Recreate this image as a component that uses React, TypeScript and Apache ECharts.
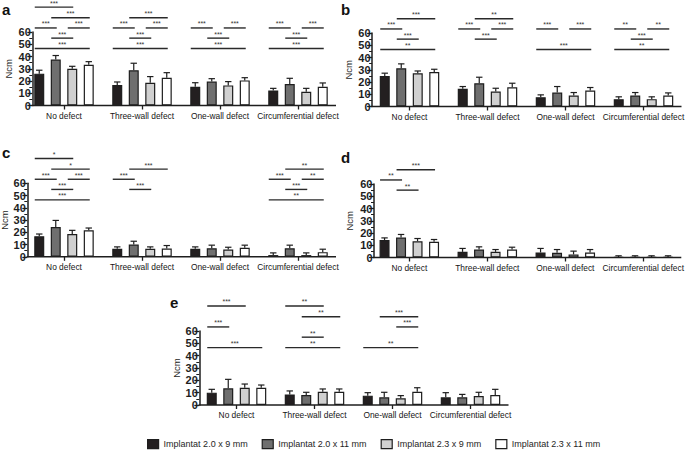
import React, { useEffect, useRef } from "react";
import * as echarts from "echarts";

const CATEGORIES = ["No defect", "Three-wall defect", "One-wall defect", "Circumferential defect"];
const IMPLANTS = ["Implantat 2.0 x 9 mm", "Implantat 2.0 x 11 mm", "Implantat 2.3 x 9 mm", "Implantat 2.3 x 11 mm"];
const COLORS = ["#231f20", "#6f6f6f", "#d0d0d0", "#ffffff"];
const BRACKET_LEVELS = [46.5, 55, 63.3, 71.6, 80.3];

// mean torque [implant][category]
const A_MEAN = [[26, 16.7, 15.3, 12.3], [37.5, 28.8, 19.5, 17.5], [30, 18.6, 16.4, 11.2], [33.2, 22.7, 20.5, 15.3]];
const A_SD = [[2.8, 2.5, 3.3, 1.7], [3.3, 5.7, 2.4, 4.7], [2, 5, 3.1, 2.8], [2.6, 4.1, 2.2, 3.1]];
const A_BRACKETS: [number, number, number, number, string][] = [
  [0, 0, 3, 0, "***"], [0, 1, 2, 1, "***"], [0, 0, 1, 2, "***"], [0, 2, 3, 2, "***"], [0, 1, 3, 3, "***"], [0, 0, 2, 4, "***"],
  [1, 0, 3, 0, "***"], [1, 1, 2, 1, "***"], [1, 0, 1, 2, "***"], [1, 2, 3, 2, "***"], [1, 1, 3, 3, "***"],
  [2, 0, 3, 0, "***"], [2, 1, 2, 1, "***"], [2, 0, 1, 2, "***"], [2, 2, 3, 2, "***"],
  [3, 0, 3, 0, "***"], [3, 1, 2, 1, "***"], [3, 0, 1, 2, "***"], [3, 2, 3, 2, "***"],
];

const B_MEAN = [[25, 14.4, 7.6, 6], [31.2, 19, 11.4, 9], [27.2, 12.2, 9, 6], [28.2, 15.7, 13, 9]];
const B_SD = [[2.2, 1.9, 1.9, 1.9], [3.6, 4.9, 4.9, 2.4], [1.8, 2.7, 2.4, 1.9], [2.2, 3.3, 2.5, 2.1]];
const B_BRACKETS: [number, number, number, number, string][] = [
  [0, 0, 3, 0, "**"], [0, 1, 2, 1, "***"], [0, 0, 1, 2, "***"], [0, 1, 3, 3, "***"],
  [1, 1, 2, 1, "***"], [1, 0, 1, 2, "***"], [1, 2, 3, 2, "***"], [1, 1, 3, 3, "**"],
  [2, 0, 3, 0, "***"], [2, 0, 1, 2, "***"], [2, 2, 3, 2, "***"],
  [3, 0, 3, 0, "**"], [3, 1, 2, 1, "***"], [3, 0, 1, 2, "**"], [3, 2, 3, 2, "**"],
];

const C_MEAN = [[16.8, 6.5, 6.5, 1.4], [24.3, 10, 7, 7], [18.6, 6.5, 5.9, 1.4], [21.6, 6.8, 7.3, 3.8]];
const C_SD = [[1.8, 1.6, 1.6, 1.8], [5.4, 2.7, 2.5, 2.5], [3, 1.6, 1.9, 1.8], [1.9, 2.4, 2.2, 2.4]];
const C_BRACKETS: [number, number, number, number, string][] = [
  [0, 0, 3, 0, "***"], [0, 1, 2, 1, "***"], [0, 0, 1, 2, "***"], [0, 2, 3, 2, "***"], [0, 1, 3, 3, "*"], [0, 0, 2, 4, "*"],
  [1, 1, 2, 1, "***"], [1, 0, 1, 2, "***"], [1, 1, 3, 3, "***"],
  [3, 0, 3, 0, "**"], [3, 1, 2, 1, "***"], [3, 0, 1, 2, "***"], [3, 2, 3, 2, "**"], [3, 1, 3, 3, "**"],
];

const D_MEAN = [[14.2, 4.6, 4.1, 0.4], [16.3, 6.5, 3.8, 0.4], [13.3, 4.6, 2.5, 0.4], [12.8, 6.5, 4.1, 0.4]];
const D_SD = [[1.8, 2.8, 3.3, 1], [2.5, 2.2, 2.7, 1], [2.2, 1.9, 2.7, 1], [1.9, 1.9, 2.4, 1]];
const D_BRACKETS: [number, number, number, number, string][] = [
  [0, 1, 2, 1, "**"], [0, 0, 1, 2, "**"], [0, 1, 3, 3, "***"],
];

const E_MEAN = [[10, 8.6, 7.6, 6.2], [13.5, 8.1, 6.2, 6.2], [14, 10.8, 5.4, 7.3], [14, 10.8, 10.8, 8.1]];
const E_SD = [[2.7, 2.8, 2.4, 3.8], [7.3, 2.2, 4.1, 2.4], [3, 2.2, 2.2, 3], [2.2, 2.2, 3.2, 4.6]];
const E_BRACKETS: [number, number, number, number, string][] = [
  [0, 0, 3, 0, "***"], [0, 0, 1, 2, "***"], [0, 0, 2, 4, "***"],
  [1, 0, 3, 0, "**"], [1, 1, 2, 1, "**"], [1, 1, 3, 3, "**"], [1, 0, 2, 4, "**"],
  [2, 0, 3, 0, "**"], [2, 2, 3, 2, "***"], [2, 1, 3, 3, "***"],
];

const PANELS = [
  { label: "a", mean: A_MEAN, sd: A_SD, brackets: A_BRACKETS, left: 25, top: 32, height: 73.5, shift: 7.3, gap: 19, lx: 2, ly: 2 },
  { label: "b", mean: B_MEAN, sd: B_SD, brackets: B_BRACKETS, left: 370.5, top: 33, height: 73.5, shift: 1.6, gap: 19, lx: 341, ly: 2 },
  { label: "c", mean: C_MEAN, sd: C_SD, brackets: C_BRACKETS, left: 25, top: 183.3, height: 73.5, shift: 2.3, gap: 15, lx: 2, ly: 145 },
  { label: "d", mean: D_MEAN, sd: D_SD, brackets: D_BRACKETS, left: 370.3, top: 184, height: 73.5, shift: 3.7, gap: 20, lx: 341, ly: 150 },
  { label: "e", mean: E_MEAN, sd: E_SD, brackets: E_BRACKETS, left: 197.5, top: 331, height: 74, shift: 1.8, gap: 15, lx: 170, ly: 295 },
];

const FONT = "'Liberation Sans', Arial, Helvetica, sans-serif";
const INK = "#1e1e1e";
const BAR_W = 10;
const BAR_STEP = 16.5;
const CAP = 3.2;
const BAND = 78;

export default function App() {
  const ref = useRef<HTMLDivElement>(null);
  useEffect(() => {
    if (!ref.current) return;
    const chart = echarts.init(ref.current, null, { renderer: "svg" });
    const grid: any[] = [];
    const xAxis: any[] = [];
    const yAxis: any[] = [];
    const series: any[] = [];
    const graphic: any[] = [];

    PANELS.forEach((p, gi) => {
      grid.push({ left: p.left, top: p.top, width: BAND * 4, height: p.height, containLabel: false, outerBoundsMode: "none" });
      xAxis.push({
        gridIndex: gi, type: "category", data: CATEGORIES,
        axisLine: { show: false },
        axisTick: { show: true, alignWithLabel: true, length: 4, lineStyle: { color: INK, width: 1.3 } },
        axisLabel: { interval: 0, fontSize: 8.4, color: "#151515", margin: 6, fontFamily: FONT },
        splitLine: { show: false },
      });
      yAxis.push({
        gridIndex: gi, type: "value", min: 0, max: 60, interval: 10, offset: -p.shift,
        axisLine: { show: true, lineStyle: { color: INK, width: 1.5 } },
        axisTick: { show: true, length: 5, lineStyle: { color: INK, width: 1.3 } },
        minorTick: { show: true, splitNumber: 2, length: 3, lineStyle: { color: INK, width: 1 } },
        splitLine: { show: false },
        minorSplitLine: { show: false },
        axisLabel: { fontSize: 11, fontWeight: "bold", color: INK, margin: 1.5, fontFamily: FONT },
        name: "Ncm", nameLocation: "middle", nameGap: p.gap,
        nameTextStyle: { fontSize: 9.5, color: INK, fontFamily: FONT },
      });
      IMPLANTS.forEach((name, k) => {
        series.push({
          type: "bar", name, xAxisIndex: gi, yAxisIndex: gi, data: p.mean[k],
          barWidth: BAR_W, barGap: "65%", silent: true,
          itemStyle: { color: COLORS[k], borderColor: INK, borderWidth: 1.2 },
        });
      });
      const errData: number[][] = [];
      IMPLANTS.forEach((_, k) => {
        CATEGORIES.forEach((_, c) => {
          errData.push([c, p.mean[k][c] + p.sd[k][c], k, p.mean[k][c]]);
        });
      });
      series.push({
        type: "custom", xAxisIndex: gi, yAxisIndex: gi, silent: true, z: 3, clip: false,
        data: errData, encode: { x: 0, y: 1 },
        renderItem: (params: any, api: any) => {
          const c = api.value(0), top = api.value(1), k = api.value(2), m = api.value(3);
          const p0 = api.coord([c, m]);
          const p1 = api.coord([c, top]);
          const x = p0[0] + (k - 1.5) * BAR_STEP;
          const st = { stroke: INK, lineWidth: 1.2 };
          return {
            type: "group",
            children: [
              { type: "line", shape: { x1: x, y1: p0[1], x2: x, y2: p1[1] }, style: st },
              { type: "line", shape: { x1: x - CAP, y1: p1[1], x2: x + CAP, y2: p1[1] }, style: st },
            ],
          };
        },
      });
      const br = p.brackets;
      series.push({
        type: "custom", xAxisIndex: gi, yAxisIndex: gi, silent: true, z: 4, clip: false,
        data: br.map((b) => [b[0], BRACKET_LEVELS[b[3]]]), encode: { x: 0, y: 1 },
        renderItem: (params: any, api: any) => {
          const b = br[params.dataIndex];
          const pt = api.coord([api.value(0), api.value(1)]);
          const x1 = pt[0] + (b[1] - 1.5) * BAR_STEP - 4.5;
          const x2 = pt[0] + (b[2] - 1.5) * BAR_STEP + 1;
          return {
            type: "group",
            children: [
              { type: "line", shape: { x1, y1: pt[1], x2, y2: pt[1] }, style: { stroke: "#2a2a2a", lineWidth: 1.4 } },
              {
                type: "text", x: (x1 + x2) / 2, y: pt[1] - 4,
                style: { text: b[4], fill: "#333", fontSize: 7, fontFamily: FONT, align: "center", verticalAlign: "middle" },
              },
            ],
          };
        },
      });
      const shift = p.shift;
      series.push({
        type: "custom", xAxisIndex: gi, yAxisIndex: gi, silent: true, z: 5, clip: false,
        data: [[0, 0]], encode: { x: 0, y: 1 },
        renderItem: (params: any, api: any) => {
          const cs = params.coordSys;
          const y0 = api.coord([0, 0])[1];
          const last = api.coord([3, 0])[0];
          return {
            type: "line",
            shape: { x1: cs.x + shift - 0.7, y1: y0, x2: last + 38, y2: y0 },
            style: { stroke: INK, lineWidth: 1.5 },
          };
        },
      });
      graphic.push({
        type: "text", x: p.lx, y: p.ly,
        style: { text: p.label, fill: "#111", fontSize: 15, fontWeight: "bold", fontFamily: FONT },
      });
    });

    chart.setOption({
      animation: false,
      backgroundColor: "#ffffff",
      textStyle: { fontFamily: FONT },
      grid, xAxis, yAxis, series, graphic,
      legend: {
        data: IMPLANTS, left: 142, top: 434, icon: "rect", itemWidth: 11, itemHeight: 9, itemGap: 14,
        selectedMode: false,
        itemStyle: { borderColor: INK, borderWidth: 1.2 },
        textStyle: { fontSize: 9, color: INK, fontFamily: FONT, padding: [0, 0, 0, 0] },
      },
    });
    return () => chart.dispose();
  }, []);
  return <div ref={ref} style={{ position: "absolute", left: 0, top: 0, width: 685, height: 452 }} />;
}
